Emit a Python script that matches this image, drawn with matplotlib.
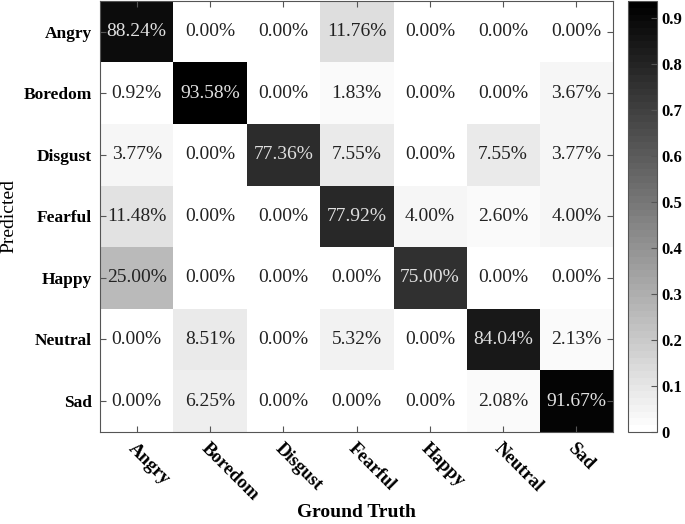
import numpy as np
import matplotlib.pyplot as plt

labels = ["Angry", "Boredom", "Disgust", "Fearful", "Happy", "Neutral", "Sad"]

# rows = predicted, columns = ground truth (percent)
angry = [88.24, 0.00, 0.00, 11.76, 0.00, 0.00, 0.00]
boredom = [0.92, 93.58, 0.00, 1.83, 0.00, 0.00, 3.67]
disgust = [3.77, 0.00, 77.36, 7.55, 0.00, 7.55, 3.77]
fearful = [11.48, 0.00, 0.00, 77.92, 4.00, 2.60, 4.00]
happy = [25.00, 0.00, 0.00, 0.00, 75.00, 0.00, 0.00]
neutral = [0.00, 8.51, 0.00, 5.32, 0.00, 84.04, 2.13]
sad = [0.00, 6.25, 0.00, 0.00, 0.00, 2.08, 91.67]

cm = np.array([angry, boredom, disgust, fearful, happy, neutral, sad]) / 100.0

plt.rcParams["font.family"] = ["Liberation Serif", "DejaVu Serif"]

fig = plt.figure(figsize=(6.85, 5.24), dpi=100)
ax = fig.add_axes([0.146, 0.176, 0.749, 0.822])
cax = fig.add_axes([0.917, 0.176, 0.042, 0.822])

cmap = plt.get_cmap("gray_r", 64)
im = ax.imshow(cm, cmap=cmap, vmin=0, vmax=cm.max(), aspect="auto")

n = len(labels)
for i in range(n):
    for j in range(n):
        v = cm[i, j]
        color = "#e0e0e0" if v > 0.5 else "#222222"
        ax.text(j, i, f"{v*100:.2f}%", ha="center", va="center",
                fontsize=14, color=color)

ax.set_xticks(range(n))
ax.set_yticks(range(n))
ax.set_xticklabels(labels, rotation=-45, ha="left", va="top",
                   rotation_mode="anchor", fontweight="bold", fontsize=13.5)
ax.set_yticklabels(labels, fontweight="bold", fontsize=12.5)
ax.tick_params(direction="in", length=4, top=True, right=True,
               color="#555555", pad=6)
for s in ax.spines.values():
    s.set_color("#555555")

ax.set_xlabel("Ground Truth", fontweight="bold", fontsize=14, labelpad=0)
ax.set_ylabel("Predicted", fontsize=14, labelpad=4)

cb = fig.colorbar(im, cax=cax, ticks=np.arange(0, 1.0, 0.1))
cb.ax.set_yticklabels(["0"] + [f"{t:.1f}" for t in np.arange(0.1, 1.0, 0.1)],
                      fontweight="bold", fontsize=12)
cb.ax.tick_params(direction="in", length=4, color="#555555")
cb.outline.set_edgecolor("#555555")

fig.savefig("out.png", dpi=100)
